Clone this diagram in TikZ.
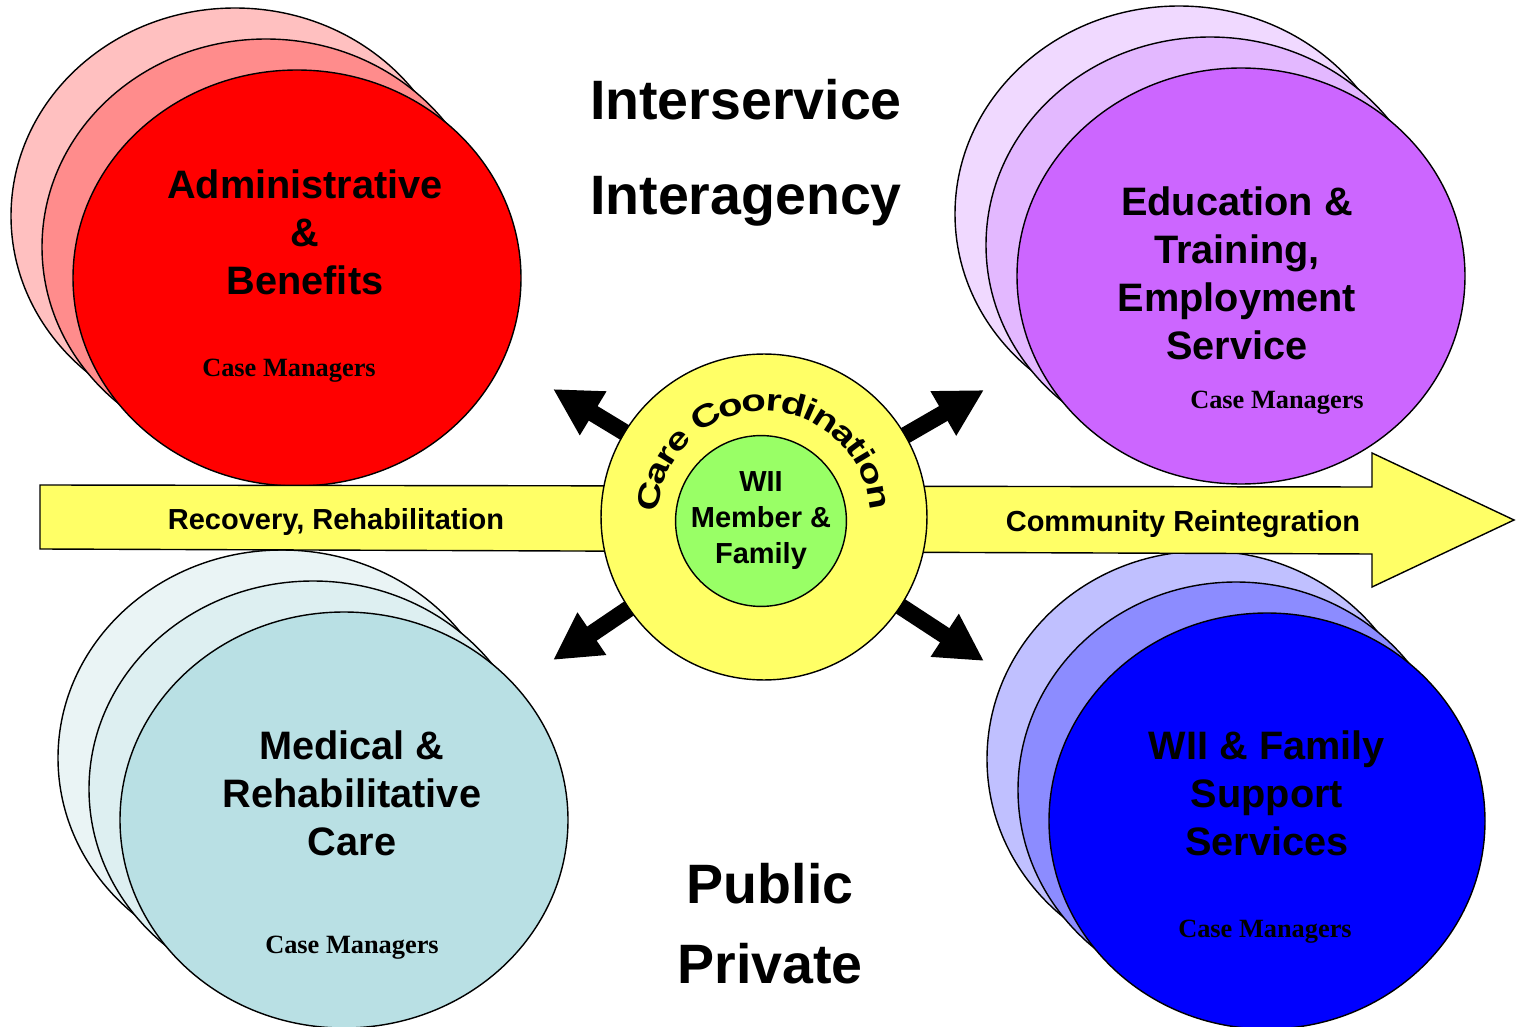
\documentclass[tikz,border=0pt]{standalone}
\usepackage{fontspec}
\setmainfont{Liberation Serif}
\setsansfont{Liberation Sans}
\newfontfamily\ccfam[FakeStretch=1.3]{Liberation Sans}
\usepackage{tikz}
\usetikzlibrary{arrows.meta,decorations.text}

\definecolor{redBack}{HTML}{FFC0C0}
\definecolor{redMid}{HTML}{FF8C8C}
\definecolor{redFront}{HTML}{FF0000}
\definecolor{purpBack}{HTML}{F0D9FF}
\definecolor{purpMid}{HTML}{E3B8FF}
\definecolor{purpFront}{HTML}{CC66FF}
\definecolor{tealBack}{HTML}{EAF4F5}
\definecolor{tealMid}{HTML}{DDEFF1}
\definecolor{tealFront}{HTML}{B9E0E4}
\definecolor{blueBack}{HTML}{C0C0FF}
\definecolor{blueMid}{HTML}{8C8CFF}
\definecolor{blueFront}{HTML}{0000FF}
\definecolor{sun}{HTML}{FFFF66}
\definecolor{leaf}{HTML}{99FF66}

\newcommand\ccfont{\ccfam\bfseries\fontsize{17.6}{20}\selectfont}

\begin{document}
\begin{tikzpicture}[
    x=0.02cm, y=0.02cm,
    bubble/.style = {draw, line width=0.8pt},
    svc/.style = {font=\sffamily\bfseries\fontsize{22.6}{27.3}\selectfont, align=center},
    head/.style = {font=\sffamily\bfseries\fontsize{31.6}{36}\selectfont, anchor=base},
    mgr/.style = {font=\rmfamily\bfseries\fontsize{15}{18}\selectfont, anchor=base},
    flow/.style = {font=\sffamily\bfseries\fontsize{16.5}{20}\selectfont, anchor=base},
    > = {Triangle[length=9.4mm, width=9.6mm]}
]
\path[use as bounding box, fill=white] (0,0) rectangle (1516,-1027);

% stacked case-manager bubbles
\foreach \cx/\cy/\rx/\cb/\cm/\cf in {297/278/224/redBack/redMid/redFront,
        1241/276/224/purpBack/purpMid/purpFront,
        344/820/224/tealBack/tealMid/tealFront,
        1267/821/218/blueBack/blueMid/blueFront} {
    \draw[bubble, fill=\cb] (\cx-62,-\cy+62) ellipse [x radius=\rx, y radius=208];
    \draw[bubble, fill=\cm] (\cx-31,-\cy+31) ellipse [x radius=\rx, y radius=208];
    \draw[bubble, fill=\cf] (\cx,-\cy) ellipse [x radius=\rx, y radius=208];
}

% yellow band
\draw[bubble, fill=sun] (40,-485) -- (1372,-487) -- (1372,-453) -- (1514,-520)
    -- (1372,-587) -- (1372,-554) -- (40,-549) -- cycle;

\coordinate (hub) at (764,-517);
\coordinate (ul) at (553,-389);
\coordinate (ur) at (984,-390);
\coordinate (ll) at (553,-660);
\coordinate (lr) at (984,-661);

\draw[->, line width=0.34cm] (hub) -- (ul);
\draw[->, line width=0.34cm] (hub) -- (ur);
\draw[->, line width=0.34cm] (hub) -- (ll);
\draw[->, line width=0.34cm] (hub) -- (lr);

\node (cc) [circle, bubble, fill=sun, minimum size=6.52cm, inner sep=0pt] at (hub) {};
\node (wii) [circle, bubble, fill=leaf, minimum size=3.24cm, inner sep=0pt, align=center,
    font=\sffamily\bfseries\fontsize{16.5}{20.5}\selectfont] at (761,-521) {WII\\Member \&\\Family};
\path[decorate, decoration={text along path, text align=fit to path, raise=-0.24cm,
    text={|\ccfont|Care Coordination}}]
    (cc.center) ++(177:118) arc[start angle=177, end angle=4, radius=118];

\node (adm) [svc] at (305,-232) {Administrative\\\&\\Benefits};
\node (admcm) [mgr] at (289,-377) {Case Managers};
\node (edu) [svc] at (1237,-273) {Education \&\\Training,\\Employment\\Service};
\node (educm) [mgr] at (1277,-409) {Case Managers};
\node (med) [svc] at (352,-793) {Medical \&\\Rehabilitative\\Care};
\node (medcm) [mgr] at (352,-953) {Case Managers};
\node (sup) [svc] at (1267,-793) {WII \& Family\\Support\\Services};
\node (supcm) [mgr] at (1265,-937) {Case Managers};

\node (inters) [head] at (746,-120) {Interservice};
\node (intera) [head] at (746,-215) {Interagency};
\node (pub) [head] at (770,-903) {Public};
\node (priv) [head] at (770,-983) {Private};

\node (rec) [flow] at (336,-529) {Recovery, Rehabilitation};
\node (reint) [flow] at (1183,-531) {Community Reintegration};
\end{tikzpicture}
\end{document}
